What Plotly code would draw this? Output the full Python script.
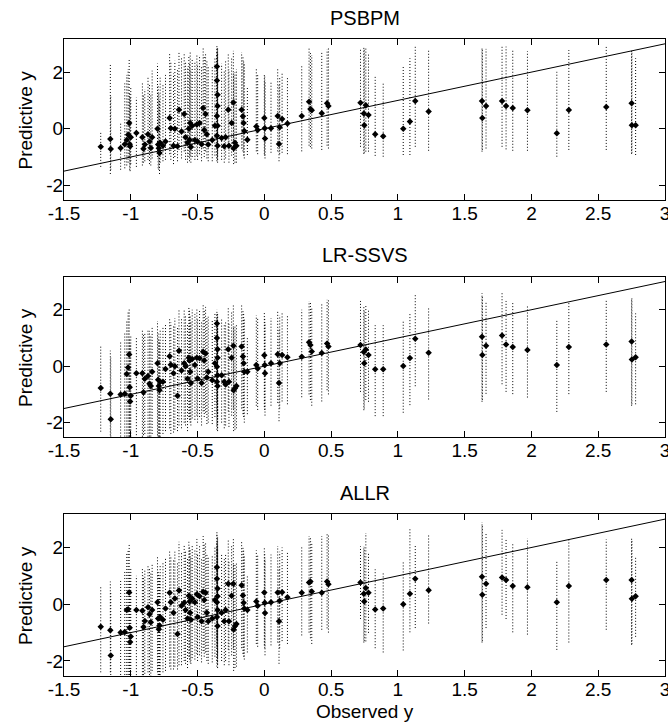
import plotly.graph_objects as go

# ---------------- data ----------------
panel_titles = ["PSBPM", "LR-SSVS", "ALLR"]
x_tick_vals = [-1.5, -1, -0.5, 0, 0.5, 1, 1.5, 2, 2.5, 3]
x_tick_text = ["-1.5", "-1", "-0.5", "0", "0.5", "1", "1.5", "2", "2.5", "3"]
y_tick_vals = [-2, 0, 2]
y_tick_text = ["-2", "0", "2"]
ref_line = [-1.5, 3.0]

observed_y = [
    -1.225, -1.153, -1.150, -1.076, -1.045, -1.030, -1.020, -1.012, -1.008, -1.005, -1.000, -0.958, -0.913, -0.905, -0.895,
    -0.871, -0.860, -0.850, -0.840, -0.800, -0.795, -0.790, -0.785, -0.780, -0.759, -0.740, -0.709, -0.700, -0.680, -0.670, -0.650, -0.639, -0.620,
    -0.600, -0.590, -0.575, -0.565, -0.560, -0.555, -0.550, -0.540, -0.520, -0.505, -0.500, -0.485, -0.470, -0.458, -0.450, -0.440, -0.430, -0.420,
    -0.390, -0.370, -0.355, -0.355, -0.350, -0.350, -0.355, -0.350, -0.355, -0.350,
    -0.320, -0.300, -0.290, -0.270, -0.265, -0.245, -0.232, -0.230, -0.220, -0.209, -0.170, -0.160, -0.155, -0.150, -0.127,
    -0.060, -0.050, 0.000, 0.003, 0.005, 0.050, 0.100, 0.110, 0.115, 0.133, 0.173, 0.280, 0.335, 0.345, 0.355, 0.430, 0.470, 0.480,
    0.720, 0.745, 0.748, 0.760, 0.780, 0.830, 0.890, 1.040, 1.090, 1.130, 1.230, 1.630, 1.632, 1.660, 1.780, 1.810, 1.860, 1.970, 2.190, 2.280, 2.560, 2.750, 2.752, 2.780,
]

psbpm_mean = [
    -0.64, -0.36, -0.72, -0.68, -0.55, -0.40, -0.21, 0.20, -0.55, -0.62, -0.30, -0.15, -0.30, -0.71, -0.56,
    -0.20, -0.45, -0.68, -0.30, 0.00, -0.56, -0.69, -0.86, -0.50, -0.60, -0.45, 0.38, 0.02, -0.60, 0.00, -0.62, 0.67, -0.10,
    0.52, -0.30, -0.50, 0.00, -0.40, 0.20, -0.65, 0.10, -0.40, 0.15, -0.45, 0.20, -0.55, 0.73, -0.05, 0.52, -0.20, -0.56,
    -0.40, 0.10, 2.20, 1.70, 1.20, 0.80, 0.45, 0.10, -0.25, -0.60,
    -0.33, -0.62, -0.30, 0.67, -0.60, 0.20, 0.93, -0.69, -0.50, -0.60, 0.67, 0.44, 0.20, -0.08, -0.39,
    0.08, -0.05, 0.38, 0.02, -0.35, 0.02, 0.45, -0.54, 0.05, 0.34, 0.18, 0.45, 0.95, 0.70, 0.65, 0.55, 0.90, 0.80,
    0.92, 0.54, 0.12, 0.83, 0.48, -0.20, -0.27, 0.00, 0.25, 0.98, 0.61, 0.98, 0.38, 0.80, 0.98, 0.80, 0.73, 0.65, -0.16, 0.66, 0.77, 0.90, 0.12, 0.12,
]
psbpm_lo = [
    -1.35, -1.60, -1.45, -1.45, -1.40, -1.30, -1.20, -1.00, -1.45, -1.50, -1.25, -1.35, -1.30, -1.20, -1.15,
    -1.10, -1.25, -1.30, -1.05, -1.00, -1.40, -1.45, -1.60, -1.20, -1.15, -1.10, -0.90, -1.10, -1.25, -1.00, -1.15, -0.75, -1.05,
    -0.80, -1.10, -1.20, -1.00, -1.15, -0.95, -1.20, -1.00, -1.10, -0.95, -1.10, -0.90, -1.15, -0.70, -1.00, -0.80, -1.05, -1.15,
    -1.15, -0.95, -0.30, -0.60, -0.80, -0.95, -1.05, -1.10, -1.15, -1.20,
    -1.10, -1.20, -1.05, -0.70, -1.20, -0.95, -0.55, -1.25, -1.20, -1.20, -0.70, -0.80, -0.95, -1.05, -0.93,
    -0.80, -0.90, -0.90, -0.95, -1.05, -0.85, -0.80, -1.15, -0.90, -0.85, -0.90, -0.80, -0.60, -0.65, -0.70, -0.75, -0.60, -0.70,
    -0.64, -0.89, -0.85, -0.81, -0.81, -0.96, -0.99, -0.93, -0.93, -0.64, -0.78, -0.81, -0.75, -0.70, -0.64, -0.73, -0.78, -0.78, -0.99, -0.75, -0.75, -0.89, -0.85, -0.93,
]
psbpm_hi = [
    -0.10, 2.28, 1.20, 0.20, 1.60, 1.90, 2.10, 2.45, 1.30, 1.10, 1.50, 1.10, 1.65, 1.20, 1.40,
    1.85, 1.55, 1.25, 2.05, 2.30, 1.50, 1.30, 1.00, 1.80, 1.60, 1.90, 2.70, 2.35, 1.95, 2.40, 2.10, 2.75, 2.50,
    2.70, 2.40, 2.20, 2.60, 2.30, 2.75, 2.10, 2.50, 2.40, 2.65, 2.30, 2.60, 2.20, 2.85, 2.55, 2.70, 2.40, 2.20,
    2.20, 2.50, 2.95, 2.90, 2.85, 2.80, 2.75, 2.70, 2.60, 2.50,
    2.30, 2.05, 2.40, 2.65, 2.10, 2.50, 2.75, 1.95, 2.00, 2.10, 2.70, 2.55, 2.40, 2.30, 1.45,
    2.10, 1.95, 1.95, 1.90, 1.70, 1.65, 2.10, 1.55, 1.85, 1.95, 1.80, 2.25, 2.85, 2.70, 2.60, 2.75, 2.80, 2.85,
    2.84, 2.90, 2.80, 2.87, 2.66, 1.84, 1.63, 2.19, 2.49, 2.90, 2.76, 2.90, 2.85, 2.82, 2.90, 2.90, 2.82, 2.74, 2.01, 2.78, 2.90, 2.78, 2.75, 2.49,
]

ssvs_mean = [
    -0.77, -0.98, -1.88, -1.00, -0.98, -0.28, -0.05, 0.41, -0.75, -1.25, -1.05, -0.25, -0.25, -0.92, -0.45,
    -0.35, -0.62, -0.70, -0.20, 0.10, -0.48, -0.70, -0.85, -0.55, -0.55, -0.10, 0.35, 0.05, -0.25, 0.00, -1.05, 0.55, -0.15,
    0.10, 0.00, -0.45, 0.30, 0.20, -0.20, -0.60, 0.25, 0.04, 0.30, -0.44, 0.28, -0.60, 0.51, 0.20, 0.45, -0.40, -0.20,
    -0.50, 0.10, 1.51, 1.00, 0.60, 0.30, -0.02, -0.32, -0.55, -0.70,
    -0.32, -0.55, -0.65, 0.60, -0.55, 0.30, 0.72, -0.85, -0.78, -0.70, 0.70, 0.34, 0.10, -0.20, -0.20,
    0.04, -0.08, 0.39, 0.04, -0.25, 0.10, 0.42, -0.60, 0.10, 0.40, 0.32, 0.33, 0.85, 0.75, 0.52, 0.47, 0.80, 0.70,
    0.75, 0.50, 0.10, 0.59, 0.40, -0.11, -0.11, 0.01, 0.29, 0.97, 0.48, 1.04, 0.40, 0.72, 1.09, 0.77, 0.68, 0.57, 0.04, 0.68, 0.77, 0.87, 0.24, 0.32,
]
ssvs_lo = [
    -2.32, -2.45, -2.60, -2.60, -2.60, -2.60, -2.60, -2.60, -2.60, -2.60, -2.60, -2.55, -2.50, -2.55, -2.40,
    -2.50, -2.60, -2.60, -2.40, -2.45, -2.60, -2.60, -2.60, -2.50, -2.40, -2.30, -2.20, -2.40, -2.35, -2.25, -2.30, -2.10, -2.20,
    -2.00, -2.10, -2.30, -1.80, -1.90, -2.00, -2.10, -1.85, -1.90, -1.75, -2.00, -1.80, -2.10, -1.60, -1.80, -1.65, -2.05, -2.00,
    -2.05, -1.80, -1.30, -1.60, -1.80, -2.00, -2.10, -2.20, -2.25, -2.30,
    -2.00, -2.20, -2.10, -1.60, -2.15, -1.75, -1.50, -2.30, -2.25, -2.20, -1.50, -1.70, -1.80, -2.00, -1.70,
    -1.40, -1.55, -1.45, -1.55, -1.75, -1.40, -1.30, -1.95, -1.50, -1.25, -1.35, -1.10, -1.00, -1.20, -1.40, -1.25, -0.85, -1.00,
    -0.91, -1.56, -1.50, -1.20, -1.26, -1.77, -1.77, -1.65, -1.38, -0.71, -1.18, -1.26, -1.20, -0.98, -0.64, -0.91, -0.99, -1.11, -1.62, -0.99, -0.91, -1.40, -1.35, -1.35,
]
ssvs_hi = [
    0.75, 0.55, 0.30, 0.90, 1.20, 1.60, 1.90, 2.05, 1.00, 0.80, 1.10, 1.00, 1.30, 1.10, 1.20,
    1.30, 1.25, 1.10, 1.40, 1.60, 1.20, 1.00, 0.90, 1.30, 1.40, 1.50, 1.70, 1.55, 1.45, 1.70, 1.40, 2.00, 1.70,
    2.00, 1.80, 1.50, 2.10, 2.00, 1.80, 1.60, 2.00, 1.85, 2.05, 1.65, 2.00, 1.55, 2.20, 2.00, 2.10, 1.70, 1.75,
    1.65, 1.90, 2.00, 1.90, 1.85, 1.80, 1.70, 1.60, 1.50, 1.45,
    1.70, 1.50, 1.55, 2.05, 1.50, 1.95, 2.15, 1.35, 1.40, 1.45, 2.15, 2.00, 1.85, 1.70, 1.00,
    1.80, 1.70, 1.90, 1.75, 1.55, 1.70, 1.95, 1.35, 1.80, 1.90, 1.80, 2.00, 2.30, 2.30, 2.10, 2.20, 2.35, 2.35,
    2.31, 2.10, 2.00, 2.20, 1.98, 1.45, 1.45, 1.60, 1.87, 2.55, 2.08, 2.59, 2.50, 2.31, 2.63, 2.31, 2.24, 2.12, 1.63, 2.24, 2.33, 2.42, 2.40, 1.87,
]

allr_mean = [
    -0.79, -0.92, -1.81, -1.00, -0.98, -0.20, -0.18, 0.41, -0.83, -1.33, -1.14, -0.20, -0.23, -0.80, -0.59,
    -0.11, -0.35, -0.64, -0.20, 0.07, -0.50, -0.88, -0.75, -0.45, -0.55, -0.15, 0.40, 0.07, -0.30, 0.20, -1.05, 0.48, -0.05,
    0.05, -0.20, -0.50, 0.30, 0.10, -0.30, -0.55, 0.20, 0.07, 0.35, -0.45, 0.28, -0.60, 0.44, 0.15, 0.40, -0.30, -0.60,
    -0.50, 0.15, 1.30, 0.90, 0.55, 0.28, 0.07, -0.20, -0.45, -0.77,
    -0.30, -0.60, -0.20, 0.72, -0.60, 0.30, 0.72, -0.89, -0.77, -0.70, 0.67, 0.31, 0.05, -0.15, -0.20,
    0.10, -0.05, 0.41, 0.05, -0.31, 0.07, 0.41, -0.60, 0.12, 0.42, 0.25, 0.40, 0.77, 0.80, 0.45, 0.40, 0.80, 0.70,
    0.77, 0.37, 0.10, 0.57, 0.40, -0.19, -0.15, 0.00, 0.37, 0.90, 0.49, 0.97, 0.33, 0.72, 0.94, 0.85, 0.64, 0.60, 0.07, 0.64, 0.85, 0.85, 0.19, 0.28,
]
allr_lo = [
    -2.40, -2.40, -2.60, -2.60, -2.60, -2.60, -2.60, -2.60, -2.60, -2.60, -2.60, -2.50, -2.50, -2.50, -2.45,
    -2.40, -2.50, -2.55, -2.35, -2.40, -2.60, -2.60, -2.60, -2.50, -2.40, -2.35, -2.20, -2.30, -2.30, -2.20, -2.30, -2.15, -2.15,
    -2.00, -2.10, -2.25, -1.85, -1.95, -2.05, -2.10, -1.90, -1.95, -1.75, -2.00, -1.80, -2.05, -1.65, -1.85, -1.70, -2.00, -2.10,
    -2.05, -1.85, -1.20, -1.50, -1.70, -1.85, -2.00, -2.10, -2.20, -2.25,
    -2.00, -2.15, -2.00, -1.60, -2.15, -1.80, -1.55, -2.35, -2.25, -2.20, -1.55, -1.75, -1.85, -1.95, -1.70,
    -1.40, -1.50, -1.45, -1.55, -1.80, -1.45, -1.35, -2.10, -1.55, -1.30, -1.40, -1.10, -1.00, -1.20, -1.40, -0.90, -0.85, -1.00,
    -0.52, -1.35, -1.30, -1.31, -1.01, -1.55, -1.70, -1.63, -0.99, -0.84, -0.68, -1.35, -1.30, -0.84, -0.37, -0.52, -0.99, -1.07, -1.61, -1.35, -0.90, -1.43, -1.40, -1.15,
]
allr_hi = [
    0.65, 0.80, 0.40, 0.85, 1.20, 1.80, 1.90, 2.10, 1.10, 0.80, 1.30, 1.00, 1.25, 1.00, 1.20,
    1.40, 1.30, 1.10, 1.45, 1.70, 1.20, 1.10, 0.95, 1.40, 1.50, 1.60, 1.90, 1.70, 1.60, 1.85, 1.50, 2.20, 1.85,
    2.10, 1.90, 1.60, 2.20, 2.00, 1.90, 1.70, 2.10, 1.95, 2.30, 1.75, 2.10, 1.60, 2.40, 2.10, 2.20, 1.80, 1.70,
    1.70, 2.00, 2.60, 2.50, 2.40, 2.30, 2.20, 2.10, 2.00, 1.90,
    1.75, 1.60, 1.75, 2.30, 1.55, 2.10, 2.35, 1.40, 1.45, 1.50, 2.20, 2.05, 1.90, 1.75, 1.05,
    1.90, 1.75, 2.00, 1.80, 1.60, 1.75, 2.05, 1.30, 1.85, 2.00, 1.85, 2.05, 2.40, 2.35, 2.20, 2.40, 2.50, 2.45,
    2.04, 2.04, 2.00, 2.51, 1.80, 1.23, 1.13, 1.52, 2.67, 2.12, 2.47, 2.89, 2.80, 2.51, 2.62, 2.29, 2.15, 2.32, 1.56, 2.32, 2.29, 2.32, 2.30, 1.70,
]

# ---------------- figure ----------------
W, H = 668, 725
FONT = "Liberation Sans, Arial, Helvetica, sans-serif"
x_left, x_right = 64, 665
panels_px = [(39, 200), (276.7, 437.3), (514.3, 675.7)]   # top, bottom (pixels)
y_range = [-2.52, 3.17]

series = [
    (psbpm_mean, psbpm_lo, psbpm_hi),
    (ssvs_mean, ssvs_lo, ssvs_hi),
    (allr_mean, allr_lo, allr_hi),
]
for s in series:
    for arr in s:
        assert len(arr) == len(observed_y), len(arr)

fig = go.Figure()
layout = dict(
    template="none",
    width=W, height=H, autosize=False,
    margin=dict(l=0, r=0, t=0, b=0, pad=0, autoexpand=False),
    paper_bgcolor="white", plot_bgcolor="white",
    showlegend=False,
    font=dict(family=FONT, size=19, color="black"),
)
annotations = []

for i, (title, (mean, lo, hi)) in enumerate(zip(panel_titles, series)):
    sfx = "" if i == 0 else str(i + 1)
    xa, ya = "x" + sfx, "y" + sfx
    bx, by = [], []
    for xv, l, h in zip(observed_y, lo, hi):
        bx += [xv, xv, None]
        by += [l, h, None]
    fig.add_trace(go.Scatter(x=bx, y=by, mode="lines", xaxis=xa, yaxis=ya,
                             line=dict(color="black", width=1, dash="1px,2px"),
                             hoverinfo="skip"))
    fig.add_trace(go.Scatter(x=ref_line, y=ref_line, mode="lines", xaxis=xa, yaxis=ya,
                             line=dict(color="black", width=1), hoverinfo="skip"))
    fig.add_trace(go.Scatter(x=observed_y, y=mean, mode="markers", xaxis=xa, yaxis=ya,
                             marker=dict(symbol="diamond", size=5, color="black")))

    top, bot = panels_px[i]
    common = dict(showline=True, linecolor="black", linewidth=1, mirror="ticks",
                  ticks="inside", ticklen=6, tickcolor="black", tickwidth=1,
                  showgrid=False, zeroline=False, automargin=False,
                  ticklabeloverflow="allow", ticklabelstandoff=-4,
                  tickfont=dict(family=FONT, size=19, color="black"))
    layout["xaxis" + sfx] = dict(common, domain=[x_left / W, x_right / W], range=[-1.5, 3],
                                 tickvals=x_tick_vals, ticktext=x_tick_text, anchor=ya)
    layout["yaxis" + sfx] = dict(common, domain=[1 - bot / H, 1 - top / H], range=y_range,
                                 tickvals=y_tick_vals, ticktext=y_tick_text, anchor=xa)
    annotations.append(dict(text=title, xref="paper", yref="paper",
                            x=(x_left + x_right) / 2 / W, y=1 - (top - 21.5) / H,
                            xanchor="center", yanchor="middle", showarrow=False,
                            font=dict(family=FONT, size=20, color="black")))
    annotations.append(dict(text="Predictive y", xref="paper", yref="paper",
                            x=25 / W, y=1 - ((top + bot) / 2) / H, textangle=-90,
                            xanchor="center", yanchor="middle", showarrow=False,
                            font=dict(family=FONT, size=19, color="black")))

annotations.append(dict(text="Observed y", xref="paper", yref="paper",
                        x=(x_left + x_right) / 2 / W, y=1 - 711 / H,
                        xanchor="center", yanchor="middle", showarrow=False,
                        font=dict(family=FONT, size=19, color="black")))
layout["annotations"] = annotations
fig.update_layout(**layout)
fig.write_html("out.html",
               config={"displayModeBar": False},
               post_script="document.body.style.margin='0';document.body.style.overflow='hidden';")
